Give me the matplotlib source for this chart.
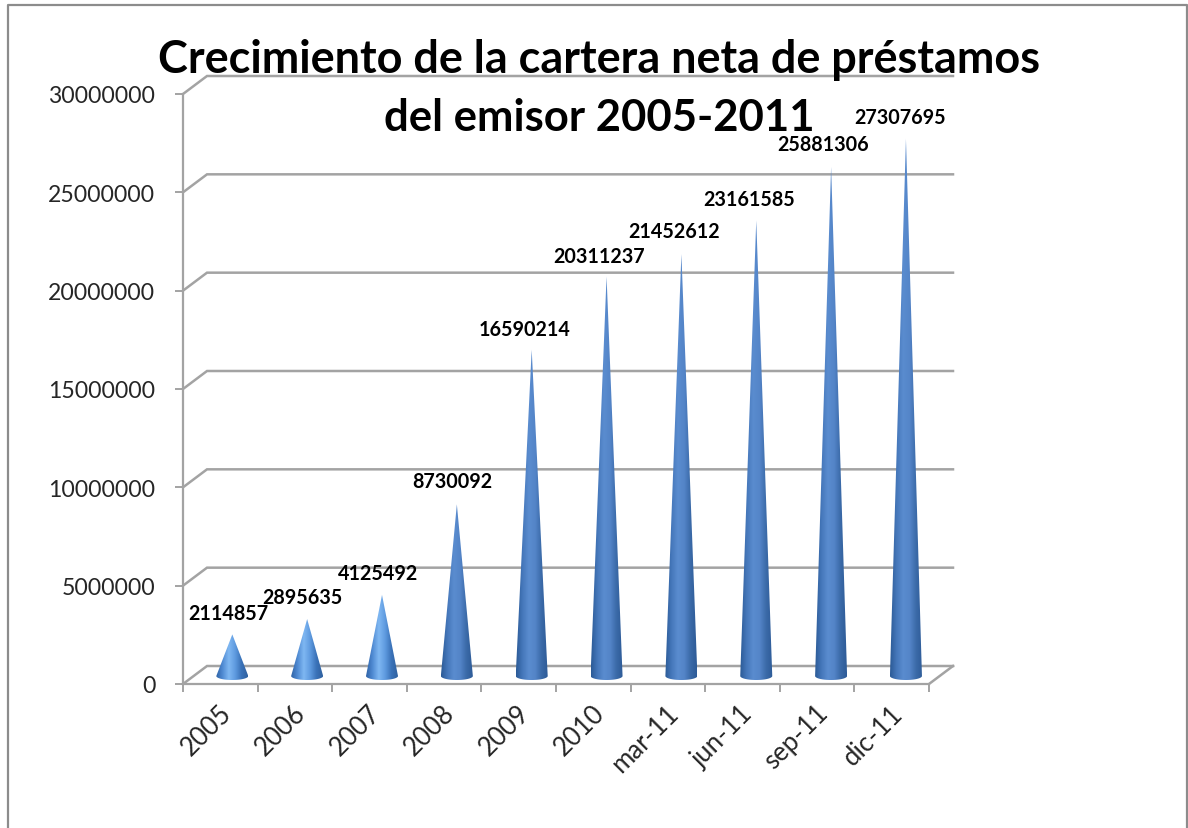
#!/usr/bin/env python
import matplotlib
matplotlib.use('Agg')
import matplotlib.pyplot as plt
import matplotlib.colors as mcolors
from matplotlib.patches import Polygon
import numpy as np

categories = ['2005', '2006', '2007', '2008', '2009', '2010',
              'mar-11', 'jun-11', 'sep-11', 'dic-11']
values = [2114857, 2895635, 4125492, 8730092, 16590214, 20311237,
          21452612, 23161585, 25881306, 27307695]
yticks = [0, 5000000, 10000000, 15000000, 20000000, 25000000, 30000000]
title_lines = ['Crecimiento de la cartera neta de préstamos',
               'del emisor 2005-2011']

# data labels were moved by hand in the original, offsets in pixels from tip
label_offsets = [(-4, 21), (-5, 22), (-4, 22), (-5, 23), (-7, 21),
                 (-7, 21), (-7, 23), (-7, 21), (-8, 23), (-6, 22)]

WIDTH, HEIGHT = 1188, 829
GRAY = '#a3a3a3'
FRAME = '#8c8c8c'
TEXT = '#262626'
FONT = 'Lato'

plt.rcParams['font.family'] = FONT

fig = plt.figure(figsize=(WIDTH / 100, HEIGHT / 100), dpi=100)
ax = fig.add_axes([183 / WIDTH, (HEIGHT - 685) / HEIGHT, 746 / WIDTH, 590 / HEIGHT])
n = len(categories)
ymax = yticks[-1]
ax.set_xlim(0, n)
ax.set_ylim(0, ymax)
ax.patch.set_facecolor('none')

# pseudo 3d: depth of the floor expressed in data units
px_x = n / 746
px_y = ymax / 590
depth_x = 24 * px_x
depth_y = 18 * px_y

for spine in ('top', 'right'):
    ax.spines[spine].set_visible(False)
for spine in ('left', 'bottom'):
    ax.spines[spine].set_color(GRAY)
    ax.spines[spine].set_linewidth(1.6)

ax.set_yticks(yticks)
ax.set_yticklabels([str(v) for v in yticks], fontsize=16.6, color=TEXT)
ax.set_xticks(np.arange(n + 1))
ax.set_xticklabels([])
ax.tick_params(axis='both', color=GRAY, width=1.4, length=6, pad=14)

# walls
for v in yticks:
    ax.plot([0, depth_x, n + depth_x], [v, v + depth_y, v + depth_y],
            color=GRAY, lw=1.8, clip_on=False, zorder=1, solid_joinstyle='miter')
ax.plot([n, n + depth_x], [0, depth_y], color=GRAY, lw=1.8, clip_on=False, zorder=1)

for i, label in enumerate(categories):
    ax.annotate(label, (i + 0.5, 0), xytext=(-2, -16), textcoords='offset pixels',
                rotation=45, ha='right', va='top', rotation_mode='anchor',
                fontsize=18.5, color=TEXT, annotation_clip=False)

# cones
shade_tall = mcolors.LinearSegmentedColormap.from_list(
    'tall', ['#2b5a96', '#4577ba', '#5a8ccf', '#5485c8', '#3b6aa8', '#2d5b97'])
shade_short = mcolors.LinearSegmentedColormap.from_list(
    'short', ['#2f63a6', '#4f8ad2', '#7fb7f2', '#5f9be0', '#3a72b8', '#30619f'])
half_w = 16 * px_x
base_y = 8 * px_y
base_h = 4 * px_y
t = np.linspace(0, np.pi, 40)
gradient = np.linspace(0, 1, 128).reshape(1, -1)

for i, (value, offset) in enumerate(zip(values, label_offsets)):
    # slight perspective drift, the cones spread a bit more than the ticks
    cx = i + 0.5 + (12 + 0.25 * i) * px_x
    tip = base_y + value
    outline = [(cx, tip)]
    outline += list(zip(cx + half_w * np.cos(t), base_y - base_h * np.sin(t)))
    cmap = shade_short if value < 6000000 else shade_tall
    img = ax.imshow(gradient, cmap=cmap, aspect='auto', zorder=3,
                    extent=(cx - half_w, cx + half_w, base_y - base_h, tip))
    img.set_clip_path(Polygon(outline, closed=True, transform=ax.transData))
    ax.annotate(str(value), (cx, tip), xytext=offset, textcoords='offset pixels',
                ha='center', va='center', fontsize=14.2, fontweight='bold',
                color='black', annotation_clip=False, zorder=5)

ax.set_xlim(0, n)
ax.set_ylim(0, ymax)

# title sits over the plot area, Lato digits run wide so line two is a bit smaller
for line, y, size in zip(title_lines, (60, 118), (32.4, 31.4)):
    fig.text(599 / WIDTH, 1 - y / HEIGHT, line, ha='center', va='center',
             fontsize=size, fontweight='bold', color='black', zorder=10)

# chart frame, open at the bottom
fig.add_artist(plt.Line2D([8 / WIDTH, 8 / WIDTH, 1187 / WIDTH, 1187 / WIDTH],
                          [0, 1 - 6 / HEIGHT, 1 - 6 / HEIGHT, 0],
                          color=FRAME, lw=1.6, transform=fig.transFigure))

fig.savefig('out.png', dpi=100)
